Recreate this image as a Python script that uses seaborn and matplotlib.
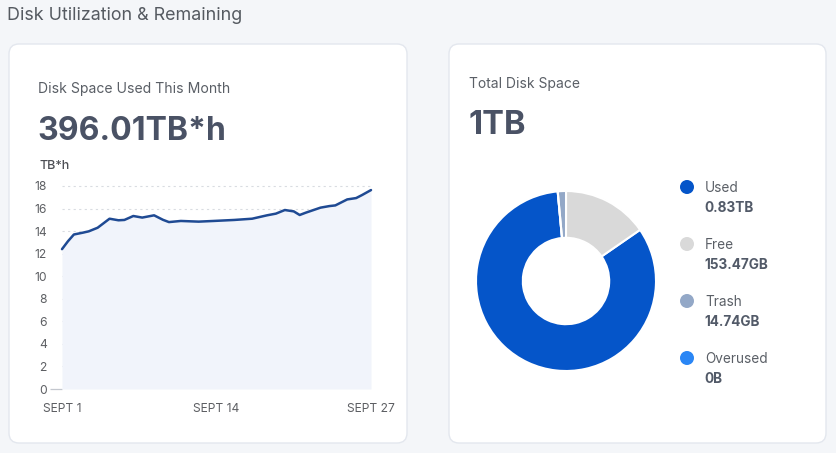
import numpy as np
import pandas as pd
import matplotlib
matplotlib.use("Agg")
import matplotlib.pyplot as plt
import seaborn as sns
from matplotlib.patches import FancyBboxPatch, Circle

# ==========================================
# Data
# ==========================================

days = [1, 1.5, 2, 2.75, 3.25, 4, 5, 5.75, 6.25, 7, 7.75, 8.75, 9.5, 10,
        11, 12.5, 13.75, 15.5, 17, 18.25, 19, 19.75, 20.5, 21, 21.5, 22.75,
        23.5, 24, 25, 25.75, 26.25, 27]
usage_tbh = [12.4, 13.1, 13.7, 13.86, 13.98, 14.3, 15.1, 14.96, 14.99, 15.34,
             15.2, 15.4, 15.0, 14.8, 14.9, 14.84, 14.9, 14.99, 15.1, 15.4,
             15.55, 15.87, 15.75, 15.43, 15.63, 16.08, 16.22, 16.28, 16.81,
             16.93, 17.2, 17.64]
x_ticks = [1, 14, 27]
x_labels = ["SEPT 1", "SEPT 14", "SEPT 27"]

disk_labels = ["Used", "Free", "Trash", "Overused"]
disk_texts = ["0.83TB", "153.47GB", "14.74GB", "0B"]
disk_gb = [830, 153.47, 14.74, 0]
disk_colors = ["#0555c9", "#d9d9d9", "#93a8c7", "#2a86f5"]

total_used = "396.01TB*h"
total_space = "1TB"

# ==========================================
# Style
# ==========================================

sns.set_theme(style="white")
plt.rcParams["font.family"] = ["Inter", "DejaVu Sans"]

W, H = 836, 453
fig = plt.figure(figsize=(W / 100, H / 100), dpi=100)
fig.patch.set_facecolor("#f4f6f9")

# background axes in pixel coordinates for cards and text
bg = fig.add_axes([0, 0, 1, 1])
bg.set_xlim(0, W)
bg.set_ylim(H, 0)
bg.axis("off")

for x0, x1 in [(9, 407), (449, 826)]:
    card = FancyBboxPatch((x0, 44), x1 - x0, 399,
                          boxstyle="round,pad=0,rounding_size=10",
                          facecolor="white", edgecolor="#e3e7ee", linewidth=1)
    bg.add_patch(card)

bg.text(7, 15, "Disk Utilization & Remaining", fontsize=12.9,
        color="#555a61", va="center", ha="left")

bg.text(38, 89, "Disk Space Used This Month", fontsize=10.1,
        color="#5a5f66", va="center")
bg.text(37, 131, total_used, fontsize=23, fontweight="bold",
        color="#4a5265", va="center")
bg.text(40, 166, "TB*h", fontsize=9, fontweight="medium",
        color="#4d4f55", va="center")

bg.text(469, 84, "Total Disk Space", fontsize=10,
        color="#5a5f66", va="center")
bg.text(468, 126, total_space, fontsize=23.5, fontweight="bold",
        color="#4a5265", va="center")

# legend for donut
for i, (lab, txt, col) in enumerate(zip(disk_labels, disk_texts, disk_colors)):
    yy = 187 + i * 57
    bg.add_patch(Circle((687, yy), 7, facecolor=col, edgecolor="none"))
    bg.text(705, yy + 1, lab, fontsize=9.8, color="#5a5f66", va="center")
    bg.text(704, yy + 21, txt, fontsize=9.8, fontweight="bold",
            color="#525a68", va="center")

# ==========================================
# Line chart
# ==========================================

df = pd.DataFrame({"day": days, "usage": usage_tbh})

ax = fig.add_axes([62 / W, 1 - 389 / H, 309 / W, 203 / H])
ax.set_facecolor("none")
ax.fill_between(df["day"], df["usage"], 0, color="#f1f4fb", zorder=2,
                linewidth=0)
sns.lineplot(data=df, x="day", y="usage", ax=ax, color="#1f4a93",
             linewidth=1.8, zorder=3, clip_on=False)

ax.set_xlim(1, 27)
ax.set_ylim(0, 18)
ax.set_yticks(np.arange(0, 19, 2))
ax.set_xticks(x_ticks)
ax.set_xticklabels(x_labels)
ax.set_xlabel("")
ax.set_ylabel("")
ax.tick_params(axis="both", length=0, labelsize=8.7, labelcolor="#5d5f63")
ax.tick_params(axis="y", pad=11, left=True)
ax.tick_params(axis="x", pad=10)
for yv in np.arange(2, 19, 2):
    ax.axhline(yv, color="#d9dce1", linestyle=(0, (2, 3)), linewidth=0.8,
               zorder=1, clip_on=False)
sns.despine(ax=ax, left=True, bottom=True)

# short tick only at zero
zero_tick = ax.yaxis.get_major_ticks()[0]
zero_tick.tick1line.set_markersize(9)
zero_tick.tick1line.set_markeredgewidth(0.9)
zero_tick.tick1line.set_markeredgecolor("#c3c7ce")

# ==========================================
# Donut chart
# ==========================================

pax = fig.add_axes([476 / W, 1 - 371 / H, 180 / W, 180 / H])
pax.pie(disk_gb, colors=disk_colors, startangle=95.3, counterclock=True,
        radius=1, wedgeprops=dict(width=0.52, edgecolor="white",
                                  linewidth=1.5))
pax.set_xlim(-1.0, 1.0)
pax.set_ylim(-1.0, 1.0)
pax.set_aspect("equal")
pax.axis("off")

fig.savefig("out.png", dpi=100, facecolor=fig.get_facecolor())
